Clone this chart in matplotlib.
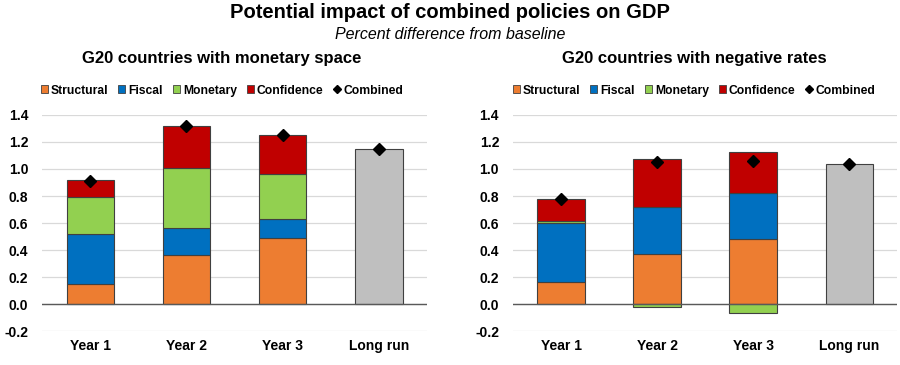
import matplotlib
matplotlib.use("Agg")
import matplotlib.pyplot as plt
import numpy as np
from matplotlib.patches import Patch
from matplotlib.lines import Line2D

plt.rcParams['font.family'] = ['Liberation Sans', 'DejaVu Sans']

categories = ["Year 1", "Year 2", "Year 3", "Long run"]
series_names = ["Structural", "Fiscal", "Monetary", "Confidence"]
colors = ["#ED7D31", "#0070C0", "#92D050", "#C00000"]
longrun_color = "#BFBFBF"

# Left panel: G20 countries with monetary space (first 3 categories stacked)
left_structural = [0.15, 0.36, 0.49]
left_fiscal = [0.37, 0.20, 0.14]
left_monetary = [0.27, 0.45, 0.33]
left_confidence = [0.13, 0.31, 0.29]
left_longrun = 1.15
left_combined = [0.91, 1.32, 1.25, 1.15]

# Right panel: G20 countries with negative rates
right_structural = [0.16, 0.37, 0.48]
right_fiscal = [0.44, 0.345, 0.345]
right_monetary = [0.015, -0.025, -0.068]
right_confidence = [0.16, 0.36, 0.30]
right_longrun = 1.04
right_combined = [0.78, 1.05, 1.06, 1.04]

yticks = [-0.2, 0.0, 0.2, 0.4, 0.6, 0.8, 1.0, 1.2, 1.4]

fig = plt.figure(figsize=(9, 3.65), dpi=100)
ax_l = fig.add_axes([0.0467, 0.093, 0.4278, 0.592])
ax_r = fig.add_axes([0.570, 0.093, 0.4267, 0.592])

def draw(ax, series, longrun, combined):
    x = np.arange(len(categories))
    w = 0.49
    pos = np.zeros(3)
    neg = np.zeros(3)
    for vals, c in zip(series, colors):
        vals = np.array(vals, dtype=float)
        bottoms = np.where(vals >= 0, pos, neg)
        ax.bar(x[:3], vals, w, bottom=bottoms, color=c, edgecolor="#404040",
               linewidth=0.8, zorder=3)
        pos = pos + np.where(vals >= 0, vals, 0)
        neg = neg + np.where(vals < 0, vals, 0)
    ax.bar(x[3], longrun, w, color=longrun_color, edgecolor="#404040",
           linewidth=0.8, zorder=3)
    ax.plot(x, combined, linestyle="none", marker="D", color="black",
            markersize=6, zorder=5)
    ax.set_xlim(-0.5, 3.5)
    ax.set_ylim(-0.2, 1.4)
    ax.set_yticks(yticks)
    ax.set_yticklabels([f"{t:.1f}" for t in yticks], fontsize=10, fontweight="bold")
    ax.set_xticks(x)
    ax.set_xticklabels(categories, fontsize=10, fontweight="bold")
    ax.tick_params(axis="both", length=0, pad=6)
    ax.tick_params(axis="y", pad=10)
    for s in ax.spines.values():
        s.set_visible(False)
    ax.grid(axis="y", color="#D9D9D9", linewidth=0.9, zorder=0)
    ax.axhline(0, color="#595959", linewidth=1.0, zorder=4)

draw(ax_l, [left_structural, left_fiscal, left_monetary, left_confidence],
     left_longrun, left_combined)
draw(ax_r, [right_structural, right_fiscal, right_monetary, right_confidence],
     right_longrun, right_combined)

fig.text(0.5, 0.965, "Potential impact of combined policies on GDP",
         ha="center", va="center", fontsize=14.5, fontweight="bold")
fig.text(0.5, 0.905, "Percent difference from baseline",
         ha="center", va="center", fontsize=11.5, style="italic")
fig.text(222 / 900, 0.84, "G20 countries with monetary space",
         ha="center", va="center", fontsize=12, fontweight="bold")
fig.text(694 / 900, 0.84, "G20 countries with negative rates",
         ha="center", va="center", fontsize=12, fontweight="bold")

handles = [Patch(facecolor=c, edgecolor="#404040", linewidth=0.6) for c in colors]
handles.append(Line2D([], [], linestyle="none", marker="D", color="black", markersize=4.5))
labels = series_names + ["Combined"]
for cx in (222 / 900, 694 / 900):
    fig.legend(handles, labels, loc="center", bbox_to_anchor=(cx, 0.752), ncol=5,
               frameon=False, handlelength=0.6, handleheight=0.6,
               handletextpad=0.25, columnspacing=0.8,
               prop={"size": 8.7, "weight": "bold"})

fig.savefig("out.png", dpi=100)
